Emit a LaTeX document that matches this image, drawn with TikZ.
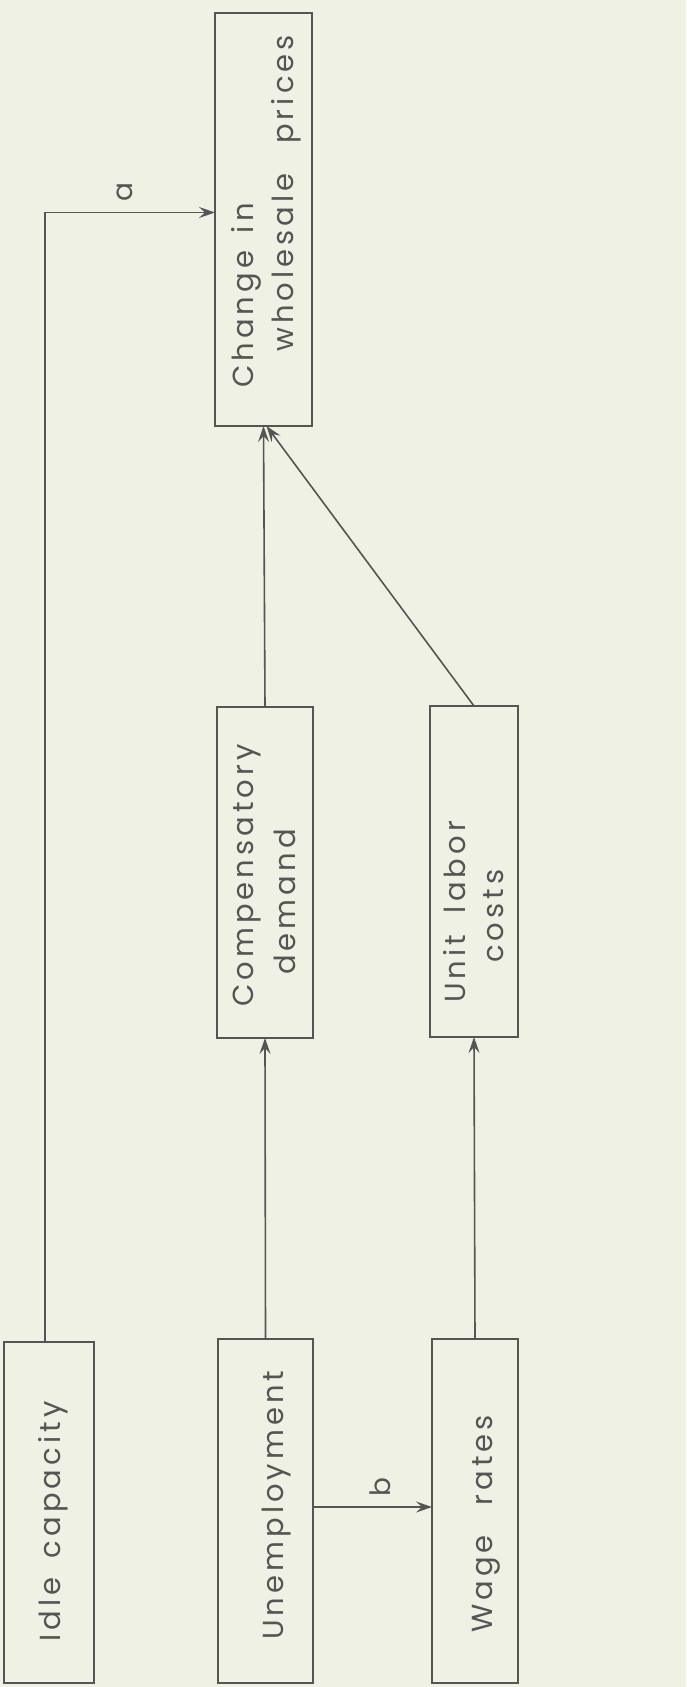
\documentclass[tikz,border=0pt]{standalone}
\usepackage{fontspec}
\setmainfont{Poppins}[LetterSpace=14]
\usetikzlibrary{arrows.meta}
\definecolor{paper}{RGB}{238,241,228}
\definecolor{ink}{RGB}{85,85,85}
\tikzset{
  box/.style={draw=ink, line width=1.7pt, inner sep=0pt, outer sep=0pt},
  txt/.style={rotate=90, anchor=base west, inner sep=0pt, text=ink, font=\fontsize{29}{34}\selectfont},
  lbl/.style={rotate=90, inner sep=0pt, text=ink, font=\fontsize{28}{34}\selectfont},
  arr/.style={draw=ink, line width=1.6pt, -{Stealth[length=16pt, width=11pt, inset=6pt]}},
}
\begin{document}
\begin{tikzpicture}[x=1pt, y=-1pt]
  \fill[paper] (0,0) rectangle (686,1687);
  \useasboundingbox (0,0) rectangle (686,1687);

  % boxes
  \node[box, minimum width=97pt, minimum height=413pt] (chg)   at (263.5,219.5) {};
  \node[box, minimum width=96pt, minimum height=331pt] (comp)  at (265,872.5) {};
  \node[box, minimum width=88pt, minimum height=331pt] (unit)  at (474,871.5) {};
  \node[box, minimum width=90pt, minimum height=341pt] (idle)  at (49,1512.5) {};
  \node[box, minimum width=95pt, minimum height=344pt] (unemp) at (265.5,1511) {};
  \node[box, minimum width=86pt, minimum height=344pt] (wage)  at (475,1511) {};

  % box texts
  \node[txt] (chg1) at (253,388) {Change\hspace{6pt} in};
  \node[txt] (chg2) at (293,352) {wholesale\hspace{18pt} prices};
  \node[txt] (comp1) at (253,1007) {Compensatory};
  \node[txt] (comp2) at (295,975) {demand};
  \node[txt] (unit1) at (465,1003) {Unit\hspace{10pt} labor};
  \node[txt] (unit2) at (503,963) {costs};
  \node[txt] (idle1) at (60,1642) {Idle\hspace{8pt} capacity};
  \node[txt] (unemp1) at (283,1640) {Unemployment};
  \node[txt] (wage1) at (492,1633) {Wage\hspace{18pt} rates};

  % connectors
  \draw[arr] ([xshift=-4pt]idle.north) |- ([yshift=7pt]chg.west);
  \node[lbl] (la) at (125,192) {a};
  \draw[arr] (unemp.north) -- (comp.south);
  \draw[arr] (comp.north) -- (chg.south);
  \draw[arr] (wage.north) -- (unit.south);
  \draw[arr] (unit.north) -- ([xshift=3pt]chg.south);
  \draw[arr] ([yshift=4pt]unemp.east) -- ([yshift=4pt]wage.west);
  \node[lbl] (lb) at (380,1487) {b};
\end{tikzpicture}
\end{document}
